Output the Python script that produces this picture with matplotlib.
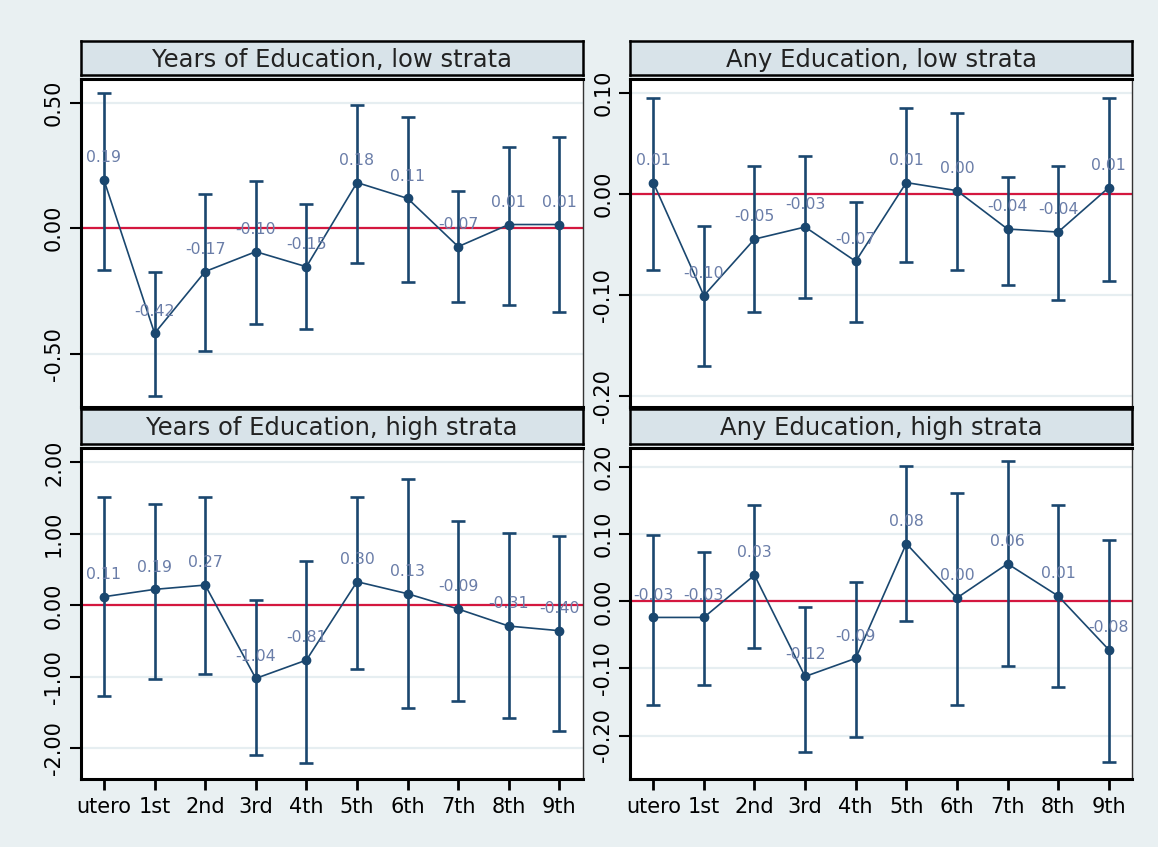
import matplotlib
matplotlib.use("Agg")
import matplotlib.pyplot as plt
from matplotlib.ticker import FixedLocator

plt.rcParams['font.family'] = ['DejaVu Sans']

categories = ['utero', '1st', '2nd', '3rd', '4th', '5th', '6th', '7th', '8th', '9th']

# Years of Education, low strata
yl_est = [0.192, -0.418, -0.172, -0.093, -0.153, 0.182, 0.119, -0.073, 0.015, 0.015]
yl_hi = [0.54, -0.175, 0.138, 0.187, 0.098, 0.492, 0.442, 0.147, 0.324, 0.363]
yl_lo = [-0.166, -0.666, -0.49, -0.382, -0.40, -0.137, -0.215, -0.294, -0.304, -0.333]
yl_lab = ['0.19', '-0.42', '-0.17', '-0.10', '-0.15', '0.18', '0.11', '-0.07', '0.01', '0.01']

# Any Education, low strata
al_est = [0.011, -0.101, -0.045, -0.033, -0.067, 0.011, 0.003, -0.035, -0.038, 0.006]
al_hi = [0.095, -0.032, 0.027, 0.037, -0.008, 0.085, 0.080, 0.017, 0.027, 0.095]
al_lo = [-0.076, -0.171, -0.117, -0.103, -0.127, -0.068, -0.076, -0.090, -0.105, -0.086]
al_lab = ['0.01', '-0.10', '-0.05', '-0.03', '-0.07', '0.01', '0.00', '-0.04', '-0.04', '0.01']

# Years of Education, high strata
yh_est = [0.121, 0.224, 0.284, -1.021, -0.765, 0.331, 0.163, -0.051, -0.289, -0.354]
yh_hi = [1.52, 1.413, 1.52, 0.07, 0.62, 1.52, 1.762, 1.175, 1.007, 0.97]
yh_lo = [-1.268, -1.026, -0.965, -2.098, -2.2, -0.89, -1.44, -1.343, -1.576, -1.758]
yh_lab = ['0.11', '0.19', '0.27', '-1.04', '-0.81', '0.30', '0.13', '-0.09', '-0.31', '-0.40']

# Any Education, high strata
ah_est = [-0.024, -0.024, 0.039, -0.112, -0.085, 0.086, 0.005, 0.056, 0.008, -0.072]
ah_hi = [0.099, 0.073, 0.143, -0.008, 0.029, 0.202, 0.161, 0.209, 0.143, 0.092]
ah_lo = [-0.154, -0.125, -0.070, -0.224, -0.202, -0.029, -0.154, -0.096, -0.128, -0.239]
ah_lab = ['-0.03', '-0.03', '0.03', '-0.12', '-0.09', '0.08', '0.00', '0.06', '0.01', '-0.08']

titles = ['Years of Education, low strata', 'Any Education, low strata',
          'Years of Education, high strata', 'Any Education, high strata']
yticks_list = [[-0.5, 0.0, 0.5], [-0.2, -0.1, 0.0, 0.1],
               [-2, -1, 0, 1, 2], [-0.2, -0.1, 0.0, 0.1, 0.2]]
ylims = [(-0.71, 0.593), (-0.211, 0.1133), (-2.42, 2.196), (-0.264, 0.228)]

panels = [(yl_est, yl_hi, yl_lo, yl_lab), (al_est, al_hi, al_lo, al_lab),
          (yh_est, yh_hi, yh_lo, yh_lab), (ah_est, ah_hi, ah_lo, ah_lab)]

BG = '#e9f0f2'
STRIP = '#d8e3e9'
NAVY = '#1a476f'
LAB = '#6a7da8'
RED = '#d4173f'
GRID = '#e6eef1'

W, H = 1158, 847
fig = plt.figure(figsize=(W / 100, H / 100), dpi=100, facecolor=BG)

# pixel layout (left, right) and (top, bottom)
cols = [(80.7, 582.7), (630.0, 1132.0)]
rows = [(79.3, 406.7), (448.3, 778.5)]
strips = [(41.0, 75.0), (409.0, 443.5)]

x = list(range(len(categories)))

for i, (est, hi, lo, lab) in enumerate(panels):
    r, c = divmod(i, 2)
    l, rt = cols[c]
    tp, bt = rows[r]
    ax = fig.add_axes([l / W, 1 - bt / H, (rt - l) / W, (bt - tp) / H])
    ax.set_facecolor('white')
    yerr = [[e - lw for e, lw in zip(est, lo)], [h - e for e, h in zip(est, hi)]]
    ax.axhline(0, color=RED, lw=1.6, zorder=2)
    ax.errorbar(x, est, yerr=yerr, fmt='none', ecolor=NAVY, elinewidth=1.9,
                capsize=4.8, capthick=1.9, zorder=3)
    ax.plot(x, est, color=NAVY, lw=1.2, marker='o', ms=6, zorder=4)
    for xi, yi, t in zip(x, est, lab):
        ax.annotate(t, (xi, yi), xytext=(0, 16), textcoords='offset points',
                    ha='center', va='center', fontsize=11.3, color=LAB, zorder=5)
    ax.set_xlim(-0.46, 9.46)
    ax.set_ylim(*ylims[i])
    yt = yticks_list[i]
    ax.yaxis.set_major_locator(FixedLocator(yt))
    ax.set_yticklabels(['%.2f' % v for v in yt], rotation=90, va='center',
                       fontsize=15)
    ax.grid(axis='y', color=GRID, lw=1.6, zorder=0)
    ax.set_axisbelow(True)
    ax.tick_params(axis='y', length=8, width=1.5, pad=4, direction='out')
    if r == 1:
        ax.set_xticks(x)
        ax.set_xticklabels(categories, fontsize=15)
        ax.tick_params(axis='x', length=8, width=2, pad=5)
    else:
        ax.set_xticks([])
    for s in ['left', 'bottom', 'top']:
        ax.spines[s].set_linewidth(2.2)
        ax.spines[s].set_color('black')
    ax.spines['right'].set_linewidth(1.0)
    ax.spines['right'].set_color('#333333')

    # title strip
    st, sb = strips[r]
    sax = fig.add_axes([l / W, 1 - sb / H, (rt - l) / W, (sb - st) / H])
    sax.set_facecolor(STRIP)
    sax.set_xticks([])
    sax.set_yticks([])
    for s in sax.spines.values():
        s.set_linewidth(1.8)
        s.set_color('black')
    sax.text(0.5, 0.45, titles[i], ha='center', va='center', fontsize=17.5,
             color='#222222', transform=sax.transAxes)

fig.savefig('out.png', dpi=100, facecolor=BG)
